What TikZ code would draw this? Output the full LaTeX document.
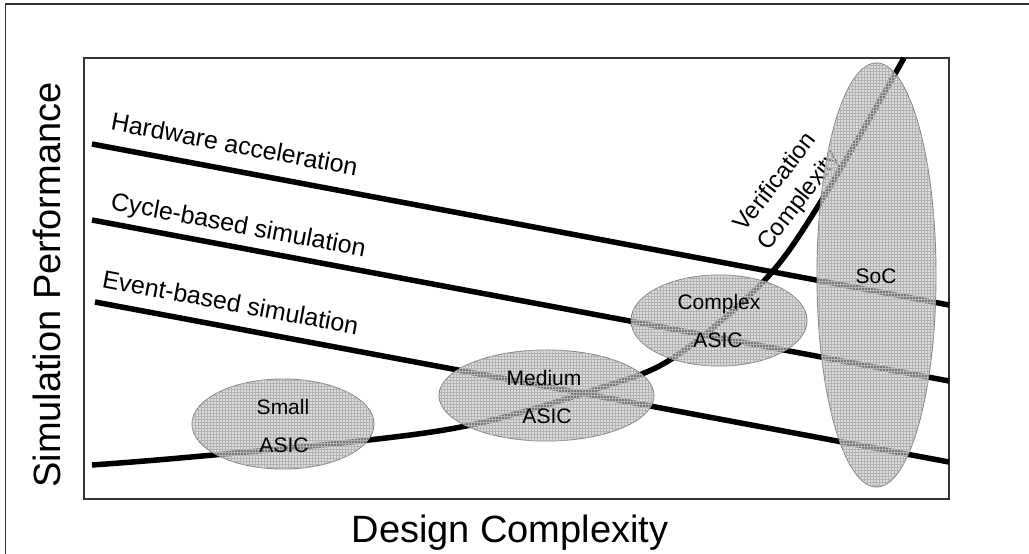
\documentclass[tikz,border=0pt]{standalone}
\usepackage{fontspec}
\setmainfont{Liberation Sans}
\usetikzlibrary{patterns,shapes.geometric}

\begin{document}
\begin{tikzpicture}[x=1pt,y=-1pt,
  frame/.style={draw=black!80, line width=1.3pt},
  trend/.style={draw=black, line width=5.5pt},
  blob/.style={ellipse, inner sep=0pt, draw=black!50, line width=0.9pt,
    fill=black!22, fill opacity=0.6,
    postaction={pattern=grid, pattern color=black!30}},
  linelabel/.style={anchor=base, inner sep=0pt, rotate=-10.6,
    font=\fontsize{25}{30}\selectfont},
  bloblabel/.style={anchor=base, inner sep=0pt, font=\fontsize{21}{25}\selectfont},
  axislabel/.style={anchor=base, inner sep=0pt, font=\fontsize{38}{44}\selectfont}
]
\useasboundingbox (0,0) rectangle (1029,554);

% outer frame and plot area
\draw[frame] (5.5,4) rectangle (1045,570);
\draw[frame] (84,58) rectangle (949,499);

% simulation technology trend lines
\coordinate (hwA) at (92,144);  \coordinate (hwB) at (949,305);
\coordinate (cyA) at (92,220);  \coordinate (cyB) at (949,381);
\coordinate (evA) at (95,302);  \coordinate (evB) at (949,462);
\draw[trend] (hwA) -- (hwB);
\draw[trend] (cyA) -- (cyB);
\draw[trend] (evA) -- (evB);

% verification complexity curve
\draw[trend, line join=round] plot[smooth, tension=0.55] coordinates {
  (92,465) (180,458) (369,440) (480,423) (600,388) (673,358)
  (763,282) (820,203) (904,58)};

\node[linelabel] (hw) at (233,153) {Hardware acceleration};
\node[linelabel] (cy) at (237,233) {Cycle-based simulation};
\node[linelabel] (ev) at (229,311) {Event-based simulation};
\node[anchor=center, inner sep=0pt, rotate=52, align=center,
  font=\fontsize{24}{30}\selectfont] (vc) at (788,192) {Verification\\Complexity};

% design classes
\node[blob, minimum width=182, minimum height=90] (small) at (283,424) {};
\node[blob, minimum width=215, minimum height=91] (medium) at (546.5,395.5) {};
\node[blob, minimum width=176, minimum height=91] (complex) at (719,320.5) {};
\node[blob, minimum width=119, minimum height=424] (soc) at (876.5,275) {};

\node[bloblabel] (t1) at (283,414) {Small};
\node[bloblabel] (t2) at (284,452) {ASIC};
\node[bloblabel] (t3) at (544,385) {Medium};
\node[bloblabel] (t4) at (547,423) {ASIC};
\node[bloblabel] (t5) at (719,309) {Complex};
\node[bloblabel] (t6) at (718,347) {ASIC};
\node[bloblabel] (t7) at (876,283) {SoC};

% axis titles
\node[axislabel] (xl) at (510,542) {Design Complexity};
\node[axislabel, rotate=90] (yl) at (60,285) {Simulation Performance};
\end{tikzpicture}
\end{document}
